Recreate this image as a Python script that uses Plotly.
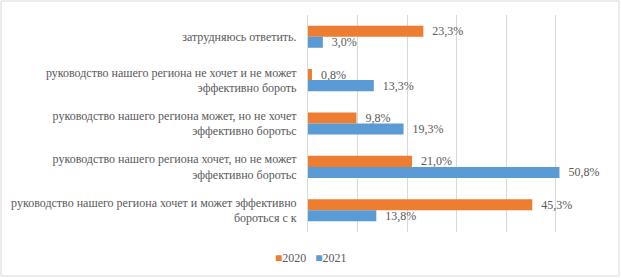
import plotly.graph_objects as go

categories = [
    "затрудняюсь ответить.",
    "руководство нашего региона не хочет и не может<br>эффективно бороть",
    "руководство нашего региона может, но не хочет<br>эффективно боротьс",
    "руководство нашего региона хочет, но не может<br>эффективно боротьс",
    "руководство нашего региона хочет и может эффективно<br>бороться с к",
]
values_2020 = [23.3, 0.8, 9.8, 21.0, 45.3]
values_2021 = [3.0, 13.3, 19.3, 50.8, 13.8]
series_names = ["2020", "2021"]
colors = ["#ED7D31", "#5B9BD5"]

W, H = 621, 278
ML, MR, MT, MB = 308, 16, 15, 46
FONT = "Liberation Serif, Times New Roman, serif"

def fmt(v):
    return "\u00a0\u00a0" + f"{v:.1f}".replace(".", ",") + "%"

fig = go.Figure()
for name, vals, col in zip(series_names, [values_2020, values_2021], colors):
    fig.add_trace(go.Bar(
        y=categories, x=vals, name=name, orientation="h",
        marker=dict(color=col, line=dict(width=0)),
        text=[fmt(v) for v in vals], textposition="outside",
        constraintext="none",
        textfont=dict(family=FONT, size=12, color="#595959"),
        cliponaxis=False,
    ))

pw = W - ML - MR
ph = H - MT - MB
legend_text = (f"<span style='color:{colors[0]}'>■</span>{series_names[0]}"
               f"&nbsp;&nbsp;&nbsp;<span style='color:{colors[1]}'>■</span>{series_names[1]}")
fig.update_layout(
    template="none",
    width=W, height=H,
    margin=dict(l=ML, r=MR, t=MT, b=MB, autoexpand=False),
    barmode="group", bargap=0.49, bargroupgap=0,
    plot_bgcolor="white", paper_bgcolor="white",
    font=dict(family=FONT, size=12, color="#595959"),
    xaxis=dict(range=[0, 60], dtick=10, showgrid=True, gridcolor="#D9D9D9",
               gridwidth=1, showticklabels=False, zeroline=False, showline=False,
               automargin=False, ticks=""),
    yaxis=dict(autorange="reversed", showline=True, linecolor="#D9D9D9",
               ticks="", ticklabelstandoff=8, automargin=False, showgrid=False,
               zeroline=False,
               tickfont=dict(family=FONT, size=12, color="#595959")),
    showlegend=False,
    annotations=[dict(text=legend_text, xref="paper", yref="paper",
                      x=(311 - ML) / pw, y=(MT + ph - 258) / ph,
                      xanchor="center", yanchor="middle", showarrow=False,
                      font=dict(family=FONT, size=12, color="#595959"))],
    shapes=[dict(type="rect", xref="paper", yref="paper",
                 x0=(1 - ML) / pw, x1=(W - 2 - ML) / pw,
                 y0=(MT + ph - (H - 2)) / ph, y1=(MT + ph - 1) / ph,
                 line=dict(color="#D9D9D9", width=1), layer="below")],
)
fig.write_html("out.html", config={"displayModeBar": False},
               post_script="document.body.style.margin='0';document.body.style.overflow='hidden';")
